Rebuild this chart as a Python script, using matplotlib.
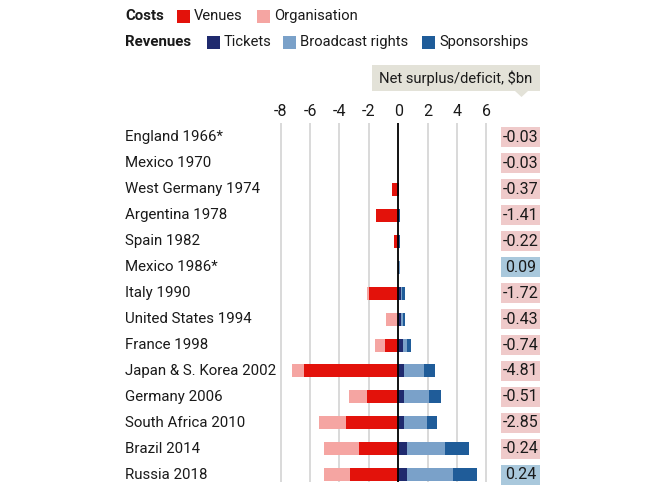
import matplotlib
matplotlib.use('Agg')
import matplotlib.pyplot as plt
from matplotlib.patches import Rectangle, Polygon
from matplotlib.transforms import blended_transform_factory

plt.rcParams['font.family'] = ['Roboto', 'DejaVu Sans']

# ---- Data ($bn) ----
hosts = ['England 1966*', 'Mexico 1970', 'West Germany 1974', 'Argentina 1978',
         'Spain 1982', 'Mexico 1986*', 'Italy 1990', 'United States 1994',
         'France 1998', 'Japan & S. Korea 2002', 'Germany 2006',
         'South Africa 2010', 'Brazil 2014', 'Russia 2018']
venues = [0.02, 0.02, 0.43, 1.52, 0.28, 0.02, 1.97, 0.05, 0.88, 6.40, 2.15, 3.58, 2.67, 3.27]
organisation = [0.01, 0.01, 0.0, 0.0, 0.02, 0.01, 0.18, 0.77, 0.68, 0.85, 1.18, 1.82, 2.36, 1.80]
tickets = [0.01, 0.01, 0.03, 0.05, 0.04, 0.04, 0.15, 0.15, 0.33, 0.41, 0.41, 0.37, 0.57, 0.57]
broadcast = [0.0, 0.0, 0.02, 0.03, 0.03, 0.05, 0.12, 0.15, 0.28, 1.34, 1.68, 1.56, 2.61, 3.13]
sponsors = [0.0, 0.0, 0.02, 0.03, 0.03, 0.03, 0.20, 0.16, 0.27, 0.72, 0.81, 0.68, 1.65, 1.65]
net = [-0.03, -0.03, -0.37, -1.41, -0.22, 0.09, -1.72, -0.43, -0.74, -4.81, -0.51, -2.85, -0.24, 0.24]
xticks = [-8, -6, -4, -2, 0, 2, 4, 6]

RED = '#e3120b'
PINK = '#f5a5a2'
NAVY = '#1f2a6e'
LIGHTBLUE = '#7aa1c9'
BLUE = '#1f5c99'
TXT = '#1a1a1a'

W, H = 650, 488
fig = plt.figure(figsize=(6.5, 4.88), dpi=100)

# axes placed in pixel terms: zero at x=398, 14.7 px per $bn
zero_px, px_per = 398.3, 14.7
xmin, xmax = -8.4, 6.4
left_px = zero_px + xmin * px_per
right_px = zero_px + xmax * px_per
top_px, bot_px = 123, 482
ax = fig.add_axes([left_px / W, 1 - bot_px / H, (right_px - left_px) / W, (bot_px - top_px) / H])

n = len(hosts)
y = list(range(n))
h = 0.5

# costs (negative side)
ax.barh(y, [-v for v in venues], height=h, color=RED, zorder=3)
ax.barh(y, [-o for o in organisation], left=[-v for v in venues], height=h, color=PINK, zorder=3)
# revenues (positive side)
ax.barh(y, tickets, height=h, color=NAVY, zorder=3)
ax.barh(y, broadcast, left=tickets, height=h, color=LIGHTBLUE, zorder=3)
ax.barh(y, sponsors, left=[t + b for t, b in zip(tickets, broadcast)], height=h, color=BLUE, zorder=3)

ax.set_xlim(xmin, xmax)
ax.set_ylim(13.27, -0.54)
for t in xticks:
    if t == 0:
        ax.axvline(t, color='black', lw=1.3, zorder=4)
    else:
        ax.axvline(t, color='#d9d9d9', lw=1.4, zorder=1)
for s in ax.spines.values():
    s.set_visible(False)
ax.set_xticks(xticks)
ax.set_xticklabels([str(t) for t in xticks])
ax.xaxis.tick_top()
ax.tick_params(axis='x', length=0, pad=3, labelsize=11.5, labelcolor=TXT)
ax.set_yticks([])

# host names and net values, in data rows
trans = blended_transform_factory(fig.transFigure, ax.transData)
box_h = 20 / 25.8
for i, name in enumerate(hosts):
    ax.text(125 / W, i, name, transform=trans, ha='left', va='center',
            fontsize=10.8, color=TXT)
    val = net[i]
    fc = '#a9c8dc' if val > 0 else '#efcaca'
    ax.add_patch(Rectangle((501 / W, i - box_h / 2), 39 / W, box_h, transform=trans,
                           fc=fc, ec='none', clip_on=False))
    ax.text(520.5 / W, i, f'{val:.2f}', transform=trans, ha='center', va='center',
            fontsize=11.5, color=TXT)

# header box for net column
fig.patches.append(Rectangle((372 / W, 1 - 91 / H), (540 - 372) / W, 26 / H,
                             transform=fig.transFigure, fc='#e3e2d8', ec='none'))
fig.patches.append(Polygon([(515 / W, 1 - 91 / H), (528 / W, 1 - 91 / H), (521.5 / W, 1 - 97 / H)],
                           closed=True, transform=fig.transFigure, fc='#e3e2d8', ec='none'))
fig.text(456 / W, 1 - 78 / H, 'Net surplus/deficit, $bn', ha='center', va='center',
         fontsize=10.6, color=TXT)

# legend
def key(x, yy, color, label):
    fig.patches.append(Rectangle((x / W, 1 - (yy + 6.5) / H), 13 / W, 13 / H,
                                 transform=fig.transFigure, fc=color, ec='none'))
    fig.text((x + 17) / W, 1 - yy / H, label, ha='left', va='center', fontsize=10.6, color=TXT)

fig.text(125 / W, 1 - 16 / H, 'Costs', ha='left', va='center', fontsize=10.8,
         fontweight='bold', color=TXT)
key(177, 16, RED, 'Venues')
key(257, 16, PINK, 'Organisation')
fig.text(125 / W, 1 - 42 / H, 'Revenues', ha='left', va='center', fontsize=10.8,
         fontweight='bold', color=TXT)
key(207, 42, NAVY, 'Tickets')
key(283, 42, LIGHTBLUE, 'Broadcast rights')
key(422, 42, BLUE, 'Sponsorships')

fig.savefig('out.png', dpi=100, facecolor='white')
